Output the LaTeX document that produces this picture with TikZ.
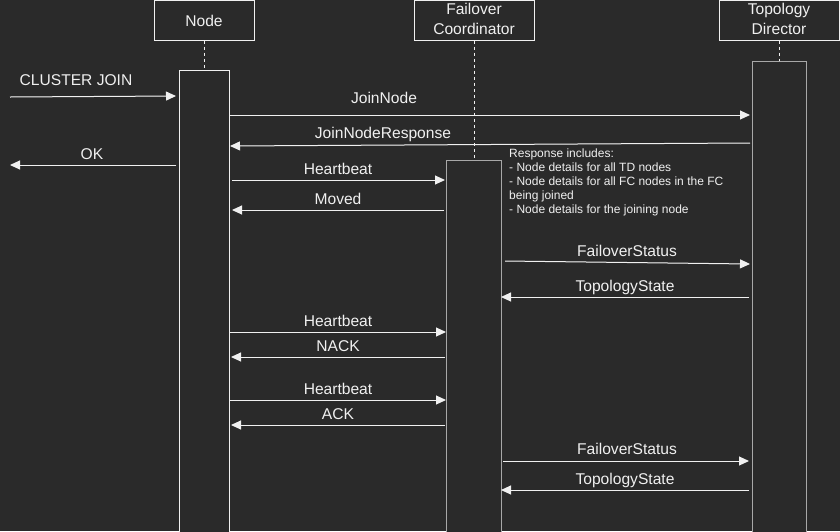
\documentclass[tikz,border=0pt]{standalone}
\usepackage{fontspec}
\setmainfont{Liberation Sans}
\usetikzlibrary{arrows.meta}
\definecolor{bgc}{HTML}{2A2A2A}
\definecolor{fg}{HTML}{F0F0F0}
\definecolor{actgray}{HTML}{A8A8A8}
\tikzset{
  hdr/.style={draw=fg, line width=1pt, fill=bgc, text=fg, align=center, inner sep=0pt},
  hdrtext/.style={text=fg, font=\fontsize{15.6}{19}\selectfont, anchor=base, inner sep=0pt},
  actbox/.style={line width=1pt, fill=bgc},
  life/.style={draw=fg, line width=1pt, dash pattern=on 3pt off 3pt},
  msg/.style={draw=fg, line width=1pt, -{Triangle[length=10pt,width=9pt]}, fill=fg},
  lbl/.style={text=fg, font=\fontsize{15.6}{18}\selectfont, anchor=base, inner sep=0pt},
  note/.style={text=fg, font=\fontsize{12}{14}\selectfont, align=left, anchor=north west, inner sep=0pt}
}
\begin{document}
\begin{tikzpicture}[x=1pt,y=-1pt]
\fill[bgc] (0,0) rectangle (840,531);
\useasboundingbox (0,0) rectangle (840,531);
\begin{scope}
\clip (0,0) rectangle (840,531);
% headers
\node[hdr, minimum width=100pt, minimum height=40pt] (hN) at (204,20) {};
\node[hdrtext] (hNt) at (204,26.5) {Node};
\node[hdr, minimum width=120pt, minimum height=40pt] (hF) at (474,20) {};
\node[hdrtext] (hFt1) at (474,14.5) {Failover};
\node[hdrtext] (hFt2) at (474,34) {Coordinator};
\node[hdr, minimum width=120pt, minimum height=40pt] (hT) at (779,20) {};
\node[hdrtext] (hTt1) at (779,14.5) {Topology};
\node[hdrtext] (hTt2) at (779,34) {Director};
% activation boxes
\draw[actbox, draw=fg] (179,70) rectangle (229,545);
\coordinate (aN) at (204,70);
\draw[actbox, draw=actgray] (446,160) rectangle (501,545);
\coordinate (aF) at (474,160);
\draw[actbox, draw=actgray] (752,61) rectangle (806,545);
\coordinate (aT) at (779,61);
% lifelines
\draw[life] (hN.south) -- (aN);
\draw[life] (hF.south) -- (aF);
\draw[life] (hT.south) -- (aT);
\end{scope}
% messages
\coordinate (c0) at (10,97);   \coordinate (c1) at (176,96);
\draw[msg] (c0) -- (c1);
\node[lbl] (l1) at (76,85.5) {CLUSTER JOIN};
\coordinate (j0) at (230,115); \coordinate (j1) at (750,115);
\draw[msg] (j0) -- (j1);
\node[lbl] (l2) at (384,103.5) {JoinNode};
\coordinate (r0) at (750,143); \coordinate (r1) at (230,146);
\draw[msg] (r0) -- (r1);
\node[lbl] (l3) at (383,138.5) {JoinNodeResponse};
\coordinate (o0) at (176,165); \coordinate (o1) at (10,165);
\draw[msg] (o0) -- (o1);
\node[lbl] (l4) at (92,159.5) {OK};
\coordinate (h0) at (232,180); \coordinate (h1) at (445,180);
\draw[msg] (h0) -- (h1);
\node[lbl] (l5) at (338,174.5) {Heartbeat};
\coordinate (m0) at (444,210); \coordinate (m1) at (232,210);
\draw[msg] (m0) -- (m1);
\node[lbl] (l6) at (338,204.5) {Moved};
\node[note] (nt) at (509,148.2) {Response includes:\\- Node details for all TD nodes\\- Node details for all FC nodes in the FC\\being joined\\- Node details for the joining node};
\coordinate (f0) at (505,261); \coordinate (f1) at (750,264);
\draw[msg] (f0) -- (f1);
\node[lbl] (l7) at (627,256.5) {FailoverStatus};
\coordinate (t0) at (749,297); \coordinate (t1) at (501,297);
\draw[msg] (t0) -- (t1);
\node[lbl] (l8) at (625,291.5) {TopologyState};
\coordinate (h2) at (230,332); \coordinate (h3) at (446,332);
\draw[msg] (h2) -- (h3);
\node[lbl] (l9) at (338,326.5) {Heartbeat};
\coordinate (n0) at (445,357); \coordinate (n1) at (231,357);
\draw[msg] (n0) -- (n1);
\node[lbl] (l10) at (338,351.5) {NACK};
\coordinate (h4) at (230,400); \coordinate (h5) at (446,400);
\draw[msg] (h4) -- (h5);
\node[lbl] (l11) at (338,394.5) {Heartbeat};
\coordinate (a0) at (445,425); \coordinate (a1) at (231,425);
\draw[msg] (a0) -- (a1);
\node[lbl] (l12) at (338,419.5) {ACK};
\coordinate (f2) at (503,461); \coordinate (f3) at (749,461);
\draw[msg] (f2) -- (f3);
\node[lbl] (l13) at (627,454.5) {FailoverStatus};
\coordinate (t2) at (749,490); \coordinate (t3) at (501,490);
\draw[msg] (t2) -- (t3);
\node[lbl] (l14) at (625,484.5) {TopologyState};
\end{tikzpicture}
\end{document}
